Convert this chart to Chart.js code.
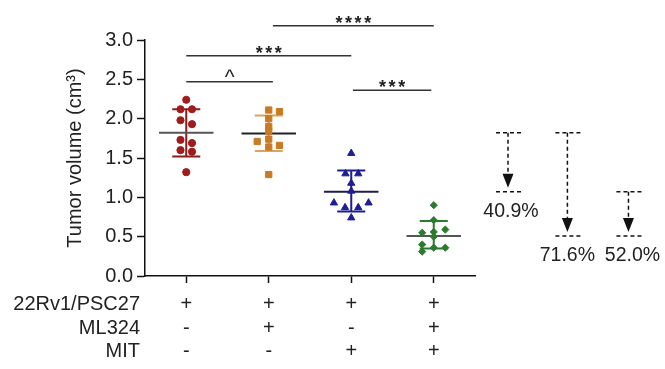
<!DOCTYPE html>
<html>
<head>
<meta charset="utf-8">
<script src="https://cdn.jsdelivr.net/npm/chart.js@4"></script>
<style>
  html, body { margin: 0; padding: 0; background: #fff; }
  #wrap { width: 665px; height: 369px; }
</style>
</head>
<body>
<div id="wrap"><canvas id="c" width="665" height="369"></canvas></div>
<script>
// --- data ---
const groupPos = [1, 2, 3, 4];

const ctrlVals = [2.24, 2.12, 2.12, 1.98, 1.93, 1.73, 1.69, 1.60, 1.58, 1.32];
const ctrlOffs = [0, -0.07, 0.07, -0.07, 0.07, -0.07, 0.07, -0.07, 0.07, 0];

const mlVals = [2.11, 2.00, 1.90, 1.84, 2.09, 1.71, 1.74, 1.64, 1.66, 1.29];
const mlOffs = [0, 0, 0, 0, 0.13, -0.14, 0, 0, 0.13, 0];

const mitVals = [1.56, 1.30, 1.30, 1.18, 1.08, 0.93, 0.93, 0.87, 0.87, 0.74];
const mitOffs = [0, -0.07, 0.085, 0, 0, -0.21, 0.21, -0.075, 0.085, 0];

const comboVals = [0.90, 0.71, 0.59, 0.55, 0.56, 0.50, 0.40, 0.36, 0.36, 0.31];
const comboOffs = [0, 0, 0.14, -0.14, 0, 0, -0.14, 0, 0.14, -0.14];

const means = [1.82, 1.81, 1.07, 0.51];
const sdHi = [2.12, 2.04, 1.34, 0.70];
const sdLo = [1.52, 1.59, 0.82, 0.35];

// significance brackets
const sigFrom = [2.05, 1.0, 1.0, 3.02];
const sigTo = [4.0, 3.0, 2.05, 3.97];
const sigY = [3.18, 2.80, 2.47, 2.36];
const sigText = ['****', '***', '^', '***'];

// reduction arrows on the right (x in axis units, y = group means)
const dropX = [4.9, 5.62, 6.36];
const dropFrom = [means[0], means[0], means[2]];
const dropTo = [means[2], means[3], means[3]];
const dropText = ['40.9%', '71.6%', '52.0%'];

// treatment table under the axis
const rowNames = ['22Rv1/PSC27', 'ML324', 'MIT'];
const pscRow = ['+', '+', '+', '+'];
const mlRow = ['-', '+', '-', '+'];
const mitRow = ['-', '-', '+', '+'];

const colors = ['#a01c1c', '#c97a22', '#1d1d94', '#2c7a2e'];
const meanColors = ['#555', '#222', '#1d1d55', '#555'];
const barColors = ['#8e1b1b', '#d9a364', '#1d1d94', '#2c7a2e'];

const FONT = "'Liberation Sans', Arial, sans-serif";
Chart.defaults.font.family = FONT;
Chart.defaults.color = '#222';

const toPts = (vals, offs, g) => vals.map((v, i) => ({ x: g + offs[i], y: v }));

const extras = {
  id: 'extras',
  beforeDatasetsDraw(chart) {
    const { ctx, scales: { x, y } } = chart;
    ctx.save();
    groupPos.forEach((g, i) => {
      // sd bar
      ctx.strokeStyle = barColors[i];
      ctx.lineWidth = 2;
      ctx.beginPath();
      ctx.moveTo(x.getPixelForValue(g), y.getPixelForValue(sdHi[i]));
      ctx.lineTo(x.getPixelForValue(g), y.getPixelForValue(sdLo[i]));
      [sdHi[i], sdLo[i]].forEach(v => {
        ctx.moveTo(x.getPixelForValue(g - 0.17), y.getPixelForValue(v));
        ctx.lineTo(x.getPixelForValue(g + 0.17), y.getPixelForValue(v));
      });
      ctx.stroke();
      // mean
      ctx.strokeStyle = meanColors[i];
      ctx.beginPath();
      ctx.moveTo(x.getPixelForValue(g - 0.33), y.getPixelForValue(means[i]));
      ctx.lineTo(x.getPixelForValue(g + 0.33), y.getPixelForValue(means[i]));
      ctx.stroke();
    });
    ctx.restore();
  },
  afterDraw(chart) {
    const { ctx, scales: { x, y }, chartArea } = chart;
    ctx.save();
    ctx.fillStyle = '#222';

    // significance lines
    sigFrom.forEach((f, i) => {
      const py = y.getPixelForValue(sigY[i]);
      ctx.strokeStyle = '#333';
      ctx.lineWidth = 1.5;
      ctx.beginPath();
      ctx.moveTo(x.getPixelForValue(f), py);
      ctx.lineTo(x.getPixelForValue(sigTo[i]), py);
      ctx.stroke();
      const cx = x.getPixelForValue((f + sigTo[i]) / 2);
      ctx.textAlign = 'center';
      ctx.textBaseline = 'alphabetic';
      if (sigText[i] === '^') {
        ctx.font = '21px ' + FONT;
        ctx.fillText('^', cx, py + 2);
      } else {
        ctx.font = 'bold 18px ' + FONT;
        const n = sigText[i].length, step = 9.6;
        for (let k = 0; k < n; k++) {
          ctx.fillText('*', cx + (k - (n - 1) / 2) * step, py + 3);
        }
      }
    });

    // reduction arrows
    const labelShift = [3, 0, 4];
    ctx.lineWidth = 1.5;
    ctx.strokeStyle = '#111';
    dropX.forEach((dx, i) => {
      const px = x.getPixelForValue(dx);
      const y0 = y.getPixelForValue(dropFrom[i]);
      const y1 = y.getPixelForValue(dropTo[i]);
      ctx.setLineDash([4, 3]);
      ctx.beginPath();
      ctx.moveTo(px - 12, y0); ctx.lineTo(px + 13, y0);
      ctx.moveTo(px - 12, y1); ctx.lineTo(px + 13, y1);
      ctx.moveTo(px, y0); ctx.lineTo(px, y1 - 16);
      ctx.stroke();
      ctx.setLineDash([]);
      ctx.fillStyle = '#111';
      ctx.beginPath();
      ctx.moveTo(px - 5.5, y1 - 18);
      ctx.lineTo(px + 5.5, y1 - 18);
      ctx.lineTo(px, y1 - 4);
      ctx.closePath();
      ctx.fill();
      ctx.fillStyle = '#222';
      ctx.font = '19.5px ' + FONT;
      ctx.textAlign = 'center';
      ctx.textBaseline = 'middle';
      ctx.fillText(dropText[i], px + labelShift[i], y1 + 20);
    });

    // table
    const rowY = [28.5, 52, 75].map(d => chartArea.bottom + d);
    const rows = [pscRow, mlRow, mitRow];
    ctx.font = '20px ' + FONT;
    ctx.textBaseline = 'middle';
    rowNames.forEach((name, r) => {
      ctx.textAlign = 'right';
      ctx.fillText(name, 140, rowY[r]);
      ctx.textAlign = 'center';
      rows[r].forEach((s, i) => {
        ctx.fillText(s, x.getPixelForValue(groupPos[i]), rowY[r]);
      });
    });
    ctx.restore();
  }
};

new Chart(document.getElementById('c'), {
  type: 'scatter',
  data: {
    datasets: [
      { data: toPts(ctrlVals, ctrlOffs, 1), pointStyle: 'circle', pointRadius: 3.6, backgroundColor: colors[0], borderColor: colors[0] },
      { data: toPts(mlVals, mlOffs, 2), pointStyle: 'rect', pointRadius: 4.4, backgroundColor: colors[1], borderColor: colors[1] },
      { data: toPts(mitVals, mitOffs, 3), pointStyle: 'triangle', pointRadius: 4.2, backgroundColor: colors[2], borderColor: colors[2] },
      { data: toPts(comboVals, comboOffs, 4), pointStyle: 'rectRot', pointRadius: 3.6, backgroundColor: colors[3], borderColor: colors[3] }
    ]
  },
  options: {
    responsive: false,
    animation: false,
    events: [],
    layout: { padding: { top: 40, right: 190, left: 0, bottom: 0 } },
    plugins: { legend: { display: false }, tooltip: { enabled: false } },
    scales: {
      x: {
        type: 'linear',
        min: 0.5,
        max: 4.5,
        afterBuildTicks: s => { s.ticks = groupPos.map(v => ({ value: v })); },
        afterFit: s => { s.height = 93; },
        ticks: { display: false },
        grid: { drawOnChartArea: false, drawTicks: true, tickLength: 7, color: '#111', tickWidth: 1.5 },
        border: { display: true, color: '#111', width: 1.5 }
      },
      y: {
        min: 0,
        max: 3,
        afterFit: s => { s.width = 145; },
        ticks: { stepSize: 0.5, callback: v => v.toFixed(1), font: { size: 20 }, color: '#222', padding: 4 },
        grid: { drawOnChartArea: false, drawTicks: true, tickLength: 8, color: '#111', tickWidth: 1.5 },
        border: { display: true, color: '#111', width: 1.5 },
        title: { display: true, text: 'Tumor volume (cm³)', font: { size: 20 }, color: '#222', padding: { top: 63, bottom: 0 } }
      }
    }
  },
  plugins: [extras]
});
</script>
</body>
</html>
